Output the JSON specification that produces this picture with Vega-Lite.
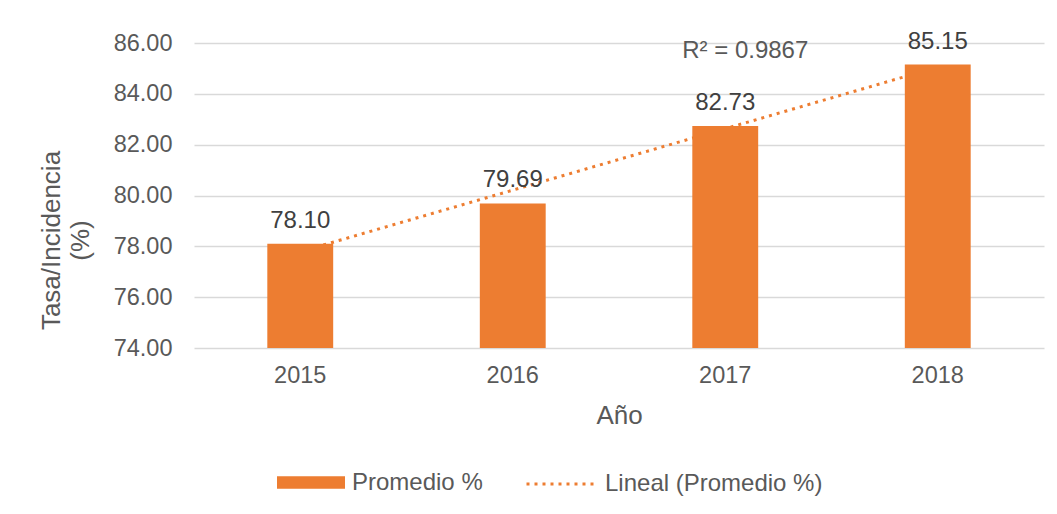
{
  "$schema": "https://vega.github.io/schema/vega-lite/v6.json",
  "autosize": "none",
  "width": 850,
  "height": 305,
  "padding": {"left": 194, "top": 43, "right": 13, "bottom": 166},
  "background": "#ffffff",
  "config": {
    "font": "Liberation Sans",
    "view": {"stroke": null},
    "axis": {"labelFont": "Liberation Sans", "titleFont": "Liberation Sans", "labelColor": "#595959", "titleColor": "#595959", "titleFontWeight": "normal"}
  },
  "datasets": {
    "main": [
      {"year": "2015", "value": 78.10, "trend": 77.79},
      {"year": "2016", "value": 79.69, "trend": 80.21},
      {"year": "2017", "value": 82.73, "trend": 82.63},
      {"year": "2018", "value": 85.15, "trend": 85.05}
    ],
    "r2": [
      {"year": "2017", "pos": 85.41, "label": "R² = 0.9867"}
    ]
  },
  "data": {"name": "main"},
  "encoding": {
    "x": {
      "field": "year",
      "type": "ordinal",
      "scale": {"paddingInner": 0.69, "paddingOuter": 0.345},
      "axis": {
        "title": "Año",
        "labelAngle": 0,
        "labelFontSize": 23.5,
        "labelPadding": 15,
        "ticks": false,
        "domain": false,
        "titleFontSize": 26,
        "titleBaseline": "alphabetic",
        "titleY": 75
      }
    }
  },
  "layer": [
    {
      "mark": {"type": "line", "color": "#ED7D31", "strokeWidth": 3, "strokeDash": [3, 5]},
      "encoding": {
        "y": {"field": "trend", "type": "quantitative", "scale": {"domain": [74, 86], "zero": false, "nice": false}},
        "strokeDash": {
          "datum": "Lineal (Promedio %)",
          "type": "nominal",
          "scale": {"range": [[3, 5]]},
          "legend": {
            "title": null,
            "orient": "none",
            "legendX": 331,
            "legendY": 405.5,
            "padding": 0,
            "symbolType": "stroke",
            "symbolSize": 4624,
            "symbolStrokeColor": "#ED7D31",
            "symbolStrokeWidth": 3,
            "symbolDash": [3, 5],
            "labelFontSize": 24,
            "labelColor": "#595959",
            "labelOffset": 9,
            "labelLimit": 0,
            "labelFont": "Liberation Sans"
          }
        }
      }
    },
    {
      "mark": {"type": "bar", "color": "#ED7D31"},
      "encoding": {
        "y": {
          "field": "value",
          "type": "quantitative",
          "scale": {"domain": [74, 86], "zero": false, "nice": false},
          "axis": {
            "title": ["Tasa/Incidencia", "(%)"],
            "values": [74, 76, 78, 80, 82, 84, 86],
            "format": ".2f",
            "labelFontSize": 23.5,
            "labelPadding": 22,
            "labelBaseline": "middle",
            "ticks": false,
            "domain": false,
            "gridColor": "#D9D9D9",
            "gridWidth": 1.5,
            "titleFontSize": 26,
            "titleAngle": 270,
            "titleBaseline": "alphabetic",
            "titleAlign": "center",
            "titleLineHeight": 29,
            "titleX": -135,
            "titleY": 197
          }
        },
        "y2": {"datum": 74},
        "color": {
          "datum": "Promedio %",
          "type": "nominal",
          "scale": {"range": ["#ED7D31"]},
          "legend": {
            "title": null,
            "orient": "none",
            "legendX": 83,
            "legendY": 405.5,
            "padding": 0,
            "symbolType": "M-1,-0.187H1V0.187H-1Z",
            "symbolSize": 4624,
            "symbolStrokeWidth": 0,
            "symbolOpacity": 1,
            "labelFontSize": 24,
            "labelColor": "#595959",
            "labelOffset": 7,
            "labelLimit": 0,
            "labelFont": "Liberation Sans"
          }
        }
      }
    },
    {
      "mark": {"type": "text", "baseline": "alphabetic", "dy": -16, "fontSize": 24, "color": "#404040", "font": "Liberation Sans"},
      "encoding": {
        "y": {"field": "value", "type": "quantitative"},
        "text": {"field": "value", "type": "quantitative", "format": ".2f"}
      }
    },
    {
      "data": {"name": "r2"},
      "mark": {"type": "text", "baseline": "alphabetic", "dx": 20, "fontSize": 24, "color": "#595959", "font": "Liberation Sans"},
      "encoding": {
        "y": {"field": "pos", "type": "quantitative"},
        "text": {"field": "label", "type": "nominal"}
      }
    }
  ]
}
